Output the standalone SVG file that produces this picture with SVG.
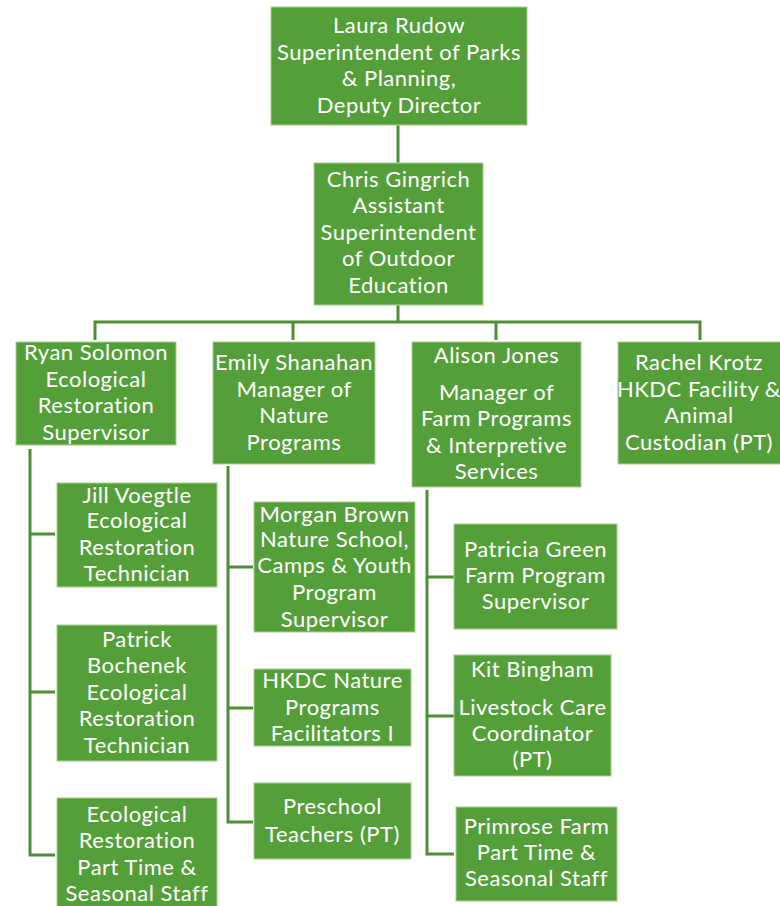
<svg xmlns="http://www.w3.org/2000/svg" width="780" height="906" viewBox="0 0 780 906">
<style>
.b{fill:#559F3B;stroke:#A8CF92;stroke-width:1}
.t{font-family:Lato,"Open Sans","Liberation Sans",sans-serif;font-size:22px;letter-spacing:0.5px;fill:#ffffff;text-anchor:middle}
.c{stroke:#4F8E36;stroke-width:3;fill:none}
</style>
<rect width="780" height="906" fill="#ffffff"/>
<g id="connectors">
<path class="c" d="M398,125V163M398,305V322M95,340V322H700V340M293,322V340M496,322V340"/>
<path class="c" d="M30,449V855H55M30,534H55M30,692H55"/>
<path class="c" d="M228,466V822H253M228,567H253M228,708H253"/>
<path class="c" d="M427,490V854H454M427,577H454M427,716H454"/>
</g>
<g id="laura"><rect class="b" x="271" y="7" width="256" height="118"/>
<text class="t"><tspan x="399" y="33">Laura Rudow</tspan><tspan x="399" y="60">Superintendent of Parks</tspan><tspan x="399" y="86">&amp; Planning,</tspan><tspan x="399" y="113">Deputy Director</tspan></text></g>
<g id="chris"><rect class="b" x="314" y="163" width="169" height="142"/>
<text class="t"><tspan x="398.5" y="187">Chris Gingrich</tspan><tspan x="398.5" y="213">Assistant</tspan><tspan x="398.5" y="240">Superintendent</tspan><tspan x="398.5" y="266">of Outdoor</tspan><tspan x="398.5" y="293">Education</tspan></text></g>
<g id="ryan"><rect class="b" x="16" y="342" width="160" height="103"/>
<text class="t"><tspan x="96" y="360">Ryan Solomon</tspan><tspan x="96" y="387">Ecological</tspan><tspan x="96" y="413">Restoration</tspan><tspan x="96" y="440">Supervisor</tspan></text></g>
<g id="emily"><rect class="b" x="213" y="342" width="162" height="122"/>
<text class="t"><tspan x="294" y="370">Emily Shanahan</tspan><tspan x="294" y="397">Manager of</tspan><tspan x="294" y="423">Nature</tspan><tspan x="294" y="450">Programs</tspan></text></g>
<g id="alison"><rect class="b" x="412" y="342" width="169" height="145"/>
<text class="t"><tspan x="496.5" y="363">Alison Jones</tspan><tspan x="496.5" y="400">Manager of</tspan><tspan x="496.5" y="426">Farm Programs</tspan><tspan x="496.5" y="453">&amp; Interpretive</tspan><tspan x="496.5" y="479">Services</tspan></text></g>
<g id="rachel"><rect class="b" x="618" y="342" width="163" height="122"/>
<text class="t"><tspan x="699" y="370">Rachel Krotz</tspan><tspan x="699" y="397">HKDC Facility &amp;</tspan><tspan x="699" y="423">Animal</tspan><tspan x="699" y="450">Custodian (PT)</tspan></text></g>
<g id="jill"><rect class="b" x="57" y="483" width="160" height="104"/>
<text class="t"><tspan x="137" y="503">Jill Voegtle</tspan><tspan x="137" y="528">Ecological</tspan><tspan x="137" y="555">Restoration</tspan><tspan x="137" y="581">Technician</tspan></text></g>
<g id="patrick"><rect class="b" x="57" y="625" width="160" height="136"/>
<text class="t"><tspan x="137" y="647">Patrick</tspan><tspan x="137" y="673">Bochenek</tspan><tspan x="137" y="700">Ecological</tspan><tspan x="137" y="726">Restoration</tspan><tspan x="137" y="753">Technician</tspan></text></g>
<g id="ecopt"><rect class="b" x="57" y="798" width="160" height="110"/>
<text class="t"><tspan x="137" y="822">Ecological</tspan><tspan x="137" y="848">Restoration</tspan><tspan x="137" y="875">Part Time &amp;</tspan><tspan x="137" y="901">Seasonal Staff</tspan></text></g>
<g id="morgan"><rect class="b" x="254" y="502" width="161" height="130"/>
<text class="t"><tspan x="334.5" y="522">Morgan Brown</tspan><tspan x="334.5" y="547">Nature School,</tspan><tspan x="334.5" y="573">Camps &amp; Youth</tspan><tspan x="334.5" y="600">Program</tspan><tspan x="334.5" y="627">Supervisor</tspan></text></g>
<g id="hkdc"><rect class="b" x="254" y="669" width="157" height="77"/>
<text class="t"><tspan x="332.5" y="688">HKDC Nature</tspan><tspan x="332.5" y="715">Programs</tspan><tspan x="332.5" y="741">Facilitators I</tspan></text></g>
<g id="preschool"><rect class="b" x="254" y="783" width="157" height="76"/>
<text class="t"><tspan x="332.5" y="814">Preschool</tspan><tspan x="332.5" y="842">Teachers (PT)</tspan></text></g>
<g id="patricia"><rect class="b" x="454" y="524" width="163" height="105"/>
<text class="t"><tspan x="535.5" y="557">Patricia Green</tspan><tspan x="535.5" y="583">Farm Program</tspan><tspan x="535.5" y="609">Supervisor</tspan></text></g>
<g id="kit"><rect class="b" x="454" y="655" width="157" height="121"/>
<text class="t"><tspan x="532.5" y="677">Kit Bingham</tspan><tspan x="532.5" y="715">Livestock Care</tspan><tspan x="532.5" y="741">Coordinator</tspan><tspan x="532.5" y="767">(PT)</tspan></text></g>
<g id="primrose"><rect class="b" x="456" y="807" width="161" height="94"/>
<text class="t"><tspan x="536.5" y="834">Primrose Farm</tspan><tspan x="536.5" y="860">Part Time &amp;</tspan><tspan x="536.5" y="886">Seasonal Staff</tspan></text></g>
</svg>
